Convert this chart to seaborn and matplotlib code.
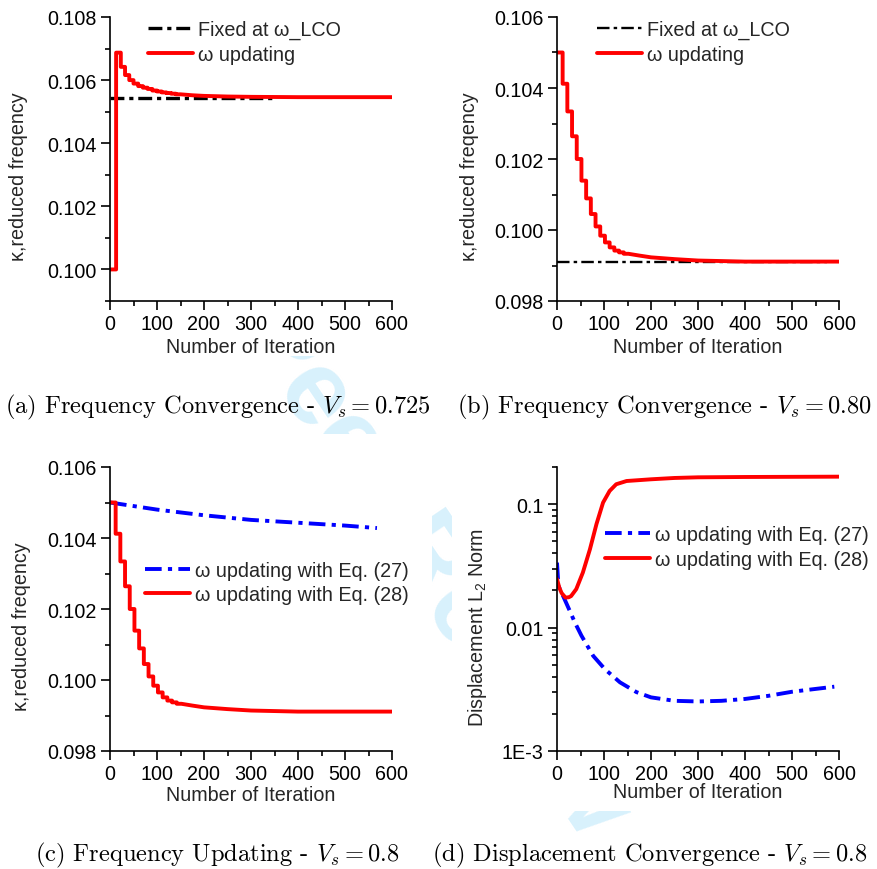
import matplotlib
matplotlib.use("Agg")
import matplotlib.pyplot as plt
import seaborn as sns
from matplotlib.ticker import MultipleLocator, FixedLocator, FixedFormatter, FormatStrFormatter, LogLocator, NullFormatter
from matplotlib.patches import Rectangle

# ---------------- data ----------------
# (a) V_s = 0.725 : stair part (step edges + levels) and smooth tail
a_step_edges = [0, 13, 23, 32, 41, 50, 60, 70, 80, 90, 100, 110, 120, 130, 140, 150]
a_step_kappa = [0.10000, 0.10687, 0.10642, 0.10616, 0.10600, 0.10589, 0.10581, 0.10576, 0.10572,
                0.10567, 0.10564, 0.10561, 0.10559, 0.10557, 0.10555]
a_tail_iter = [175, 200, 250, 300, 400, 600]
a_tail_kappa = [0.10552, 0.10550, 0.10548, 0.10547, 0.10546, 0.10546]
a_fixed_iter = [0, 351]
a_fixed_kappa = [0.10542, 0.10542]

# (b)/(c) V_s = 0.80, omega updating with Eq. (28)
b_step_edges = [0, 12, 22, 32, 42, 52, 62, 72, 82, 92, 102, 112, 122, 132, 142, 152]
b_step_kappa = [0.10500, 0.10412, 0.10334, 0.10264, 0.10200, 0.10139, 0.10089, 0.10045, 0.10010,
                0.09984, 0.09965, 0.09951, 0.09942, 0.09937, 0.09933]
b_tail_iter = [175, 200, 250, 300, 400, 600]
b_tail_kappa = [0.09928, 0.09923, 0.09918, 0.09914, 0.09911, 0.09911]
b_fixed_iter = [0, 574]
b_fixed_kappa = [0.09911, 0.09911]

# (c) omega updating with Eq. (27)
c27_iter = [0, 100, 200, 300, 400, 500, 568]
c27_kappa = [0.10500, 0.10480, 0.10464, 0.10451, 0.10443, 0.10435, 0.10428]

# (d) displacement L2 norm
d27_iter = [0, 3, 16, 27, 38, 52, 77, 102, 134, 169, 200, 250, 300, 350, 400, 450, 500, 549, 590]
d27_norm = [0.0336, 0.0218, 0.0170, 0.0137, 0.0110, 0.0086, 0.0059, 0.0046, 0.0036, 0.0030,
            0.00272, 0.00255, 0.00252, 0.00255, 0.00264, 0.0028, 0.00302, 0.00318, 0.00332]
d28_iter = [0, 5, 10, 18, 25, 30, 41, 55, 70, 84, 98, 112, 126, 148, 200, 250, 300, 400, 600]
d28_norm = [0.0247, 0.0210, 0.0190, 0.0175, 0.0176, 0.0180, 0.0205, 0.0279, 0.043, 0.069,
            0.103, 0.128, 0.145, 0.154, 0.159, 0.163, 0.165, 0.166, 0.167]

x_ticks = [0, 100, 200, 300, 400, 500, 600]
a_yticks = [0.100, 0.102, 0.104, 0.106, 0.108]
b_yticks = [0.098, 0.100, 0.102, 0.104, 0.106]
d_yticks = [1e-3, 1e-2, 1e-1]
d_ytick_labels = ["1E-3", "0.01", "0.1"]

captions = [
    "(a) Frequency Convergence - $V_s = 0.725$",
    "(b) Frequency Convergence - $V_s = 0.80$",
    "(c) Frequency Updating - $V_s = 0.8$",
    "(d) Displacement Convergence - $V_s = 0.8$",
]


def stair_path(edges, levels, tail_x, tail_y):
    xs, ys = [], []
    for i, v in enumerate(levels):
        xs += [edges[i], edges[i + 1]]
        ys += [v, v]
    return xs + list(tail_x), ys + list(tail_y)


# ---------------- style ----------------
sns.set_theme(style="ticks")
plt.rcParams['font.family'] = ['Liberation Sans', 'DejaVu Sans']
plt.rcParams['mathtext.fontset'] = 'custom'
plt.rcParams['mathtext.rm'] = 'Liberation Sans'
plt.rcParams['mathtext.it'] = 'Liberation Sans:italic'
plt.rcParams['lines.scale_dashes'] = False
plt.rcParams['axes.linewidth'] = 1.2
plt.rcParams['axes.edgecolor'] = 'black'

FS = 14.2
fig = plt.figure(figsize=(8.77, 8.70), dpi=100)
fig.patch.set_facecolor('white')

# faint watermark behind the panels
fig.text(0.43, 0.44, "For Peer Review", rotation=-56, fontsize=76, color='#d8f1fc',
         weight='bold', ha='center', va='center', zorder=-10)
for (x0, y0, x1, y1) in [(0, 0, 437, 357), (445, 0, 877, 357), (0, 435, 432, 812), (452, 435, 877, 812)]:
    fig.add_artist(Rectangle((x0 / 877, 1 - y1 / 870), (x1 - x0) / 877, (y1 - y0) / 870,
                             transform=fig.transFigure, facecolor='white', edgecolor='none', zorder=-5))

W, H = 282 / 877, 284 / 870
L1, L2 = 110 / 877, 557 / 877
B1, B2 = 1 - 302 / 870, 1 - 752 / 870
ax_a = fig.add_axes([L1, B1, W, H])
ax_b = fig.add_axes([L2, B1, W, H])
ax_c = fig.add_axes([L1, B2, W, H])
ax_d = fig.add_axes([L2, B2, W, H])

LW = 2.8
red = '#ff0000'
blue = '#0000ff'
dashdot_blue = (0, (12, 4.5, 3, 4.5))
line_kw = dict(estimator=None, sort=False)

a_x, a_y = stair_path(a_step_edges, a_step_kappa, a_tail_iter, a_tail_kappa)
b_x, b_y = stair_path(b_step_edges, b_step_kappa, b_tail_iter, b_tail_kappa)

# (a)
sns.lineplot(x=a_fixed_iter, y=a_fixed_kappa, ax=ax_a, color='black', lw=2.4,
             linestyle=(0, (10, 3.5, 3, 3.5)), label='Fixed at ω_LCO', **line_kw)
sns.lineplot(x=a_x, y=a_y, ax=ax_a, color=red, lw=LW, label='ω updating', **line_kw)
ax_a.set_ylim(0.099, 0.108)
ax_a.set_yticks(a_yticks)
ax_a.yaxis.set_minor_locator(MultipleLocator(0.001))

# (b)
sns.lineplot(x=b_fixed_iter, y=b_fixed_kappa, ax=ax_b, color='black', lw=1.7,
             linestyle=(0, (9, 3, 2.5, 3)), label='Fixed at ω_LCO', **line_kw)
sns.lineplot(x=b_x, y=b_y, ax=ax_b, color=red, lw=LW, label='ω updating', **line_kw)
ax_b.set_ylim(0.098, 0.106)
ax_b.set_yticks(b_yticks)
ax_b.yaxis.set_minor_locator(MultipleLocator(0.001))

# (c)
sns.lineplot(x=c27_iter, y=c27_kappa, ax=ax_c, color=blue, lw=LW, linestyle=dashdot_blue,
             label='ω updating with Eq. (27)', **line_kw)
sns.lineplot(x=b_x, y=b_y, ax=ax_c, color=red, lw=LW, label='ω updating with Eq. (28)', **line_kw)
ax_c.set_ylim(0.098, 0.106)
ax_c.set_yticks(b_yticks)
ax_c.yaxis.set_minor_locator(MultipleLocator(0.001))

# (d)
sns.lineplot(x=d27_iter, y=d27_norm, ax=ax_d, color=blue, lw=LW, linestyle=dashdot_blue,
             label='ω updating with Eq. (27)', **line_kw)
sns.lineplot(x=d28_iter, y=d28_norm, ax=ax_d, color=red, lw=LW, label='ω updating with Eq. (28)', **line_kw)
ax_d.set_yscale('log')
ax_d.set_ylim(1e-3, 0.2)
ax_d.yaxis.set_major_locator(FixedLocator(d_yticks))
ax_d.yaxis.set_major_formatter(FixedFormatter(d_ytick_labels))
ax_d.yaxis.set_minor_locator(LogLocator(base=10, subs=range(2, 10)))
ax_d.yaxis.set_minor_formatter(NullFormatter())

for ax in (ax_a, ax_b, ax_c):
    ax.yaxis.set_major_formatter(FormatStrFormatter('%.3f'))

for ax in (ax_a, ax_b, ax_c, ax_d):
    ax.set_facecolor('white')
    ax.set_xlim(0, 600)
    ax.set_xticks(x_ticks)
    ax.xaxis.set_minor_locator(MultipleLocator(50))
    for s in ('top', 'right'):
        ax.spines[s].set_visible(False)
    ax.tick_params(which='major', direction='out', length=6.5, width=1.2, labelsize=FS, pad=3,
                   color='black', labelcolor='black')
    ax.tick_params(which='minor', direction='out', length=3.5, width=1.2, color='black')
    ax.set_xlabel('Number of Iteration', fontsize=FS)
    ax.grid(False)

ax_a.set_ylabel('κ,reduced freqency', fontsize=FS)
ax_b.set_ylabel('κ,reduced freqency', fontsize=FS)
ax_c.set_ylabel('κ,reduced freqency', fontsize=FS)
ax_d.set_ylabel('Displacement L$_2$ Norm', fontsize=FS)

ax_a.yaxis.set_label_coords(-0.29, 0.44)
ax_b.yaxis.set_label_coords(-0.276, 0.44)
ax_c.yaxis.set_label_coords(-0.28, 0.44)
ax_d.yaxis.set_label_coords(-0.242, 0.437)
ax_a.xaxis.set_label_coords(0.5, -0.127)
ax_b.xaxis.set_label_coords(0.5, -0.127)
ax_c.xaxis.set_label_coords(0.5, -0.120)
ax_d.xaxis.set_label_coords(0.5, -0.110)

leg_kw = dict(frameon=False, fontsize=FS, loc='upper left', borderpad=0, borderaxespad=0,
              handlelength=2.3, handletextpad=0.25, labelspacing=0.28)
ax_a.legend(bbox_to_anchor=(0.135, 0.990), **leg_kw)
ax_b.legend(bbox_to_anchor=(0.142, 0.990), **leg_kw)
ax_c.legend(bbox_to_anchor=(0.124, 0.670), **leg_kw)
ax_d.legend(bbox_to_anchor=(0.170, 0.795), **leg_kw)

# captions
cap_kw = dict(family='cmr10', math_fontfamily='cm', fontsize=17.6, ha='left', va='center', color='black')
fig.text(5 / 877, 1 - 407 / 870, captions[0], **cap_kw)
fig.text(457 / 877, 1 - 407 / 870, captions[1], **cap_kw)
fig.text(35 / 877, 1 - 855 / 870, captions[2], **cap_kw)
fig.text(432 / 877, 1 - 855 / 870, captions[3], **cap_kw)

fig.savefig('out.png', dpi=100, facecolor='white')
